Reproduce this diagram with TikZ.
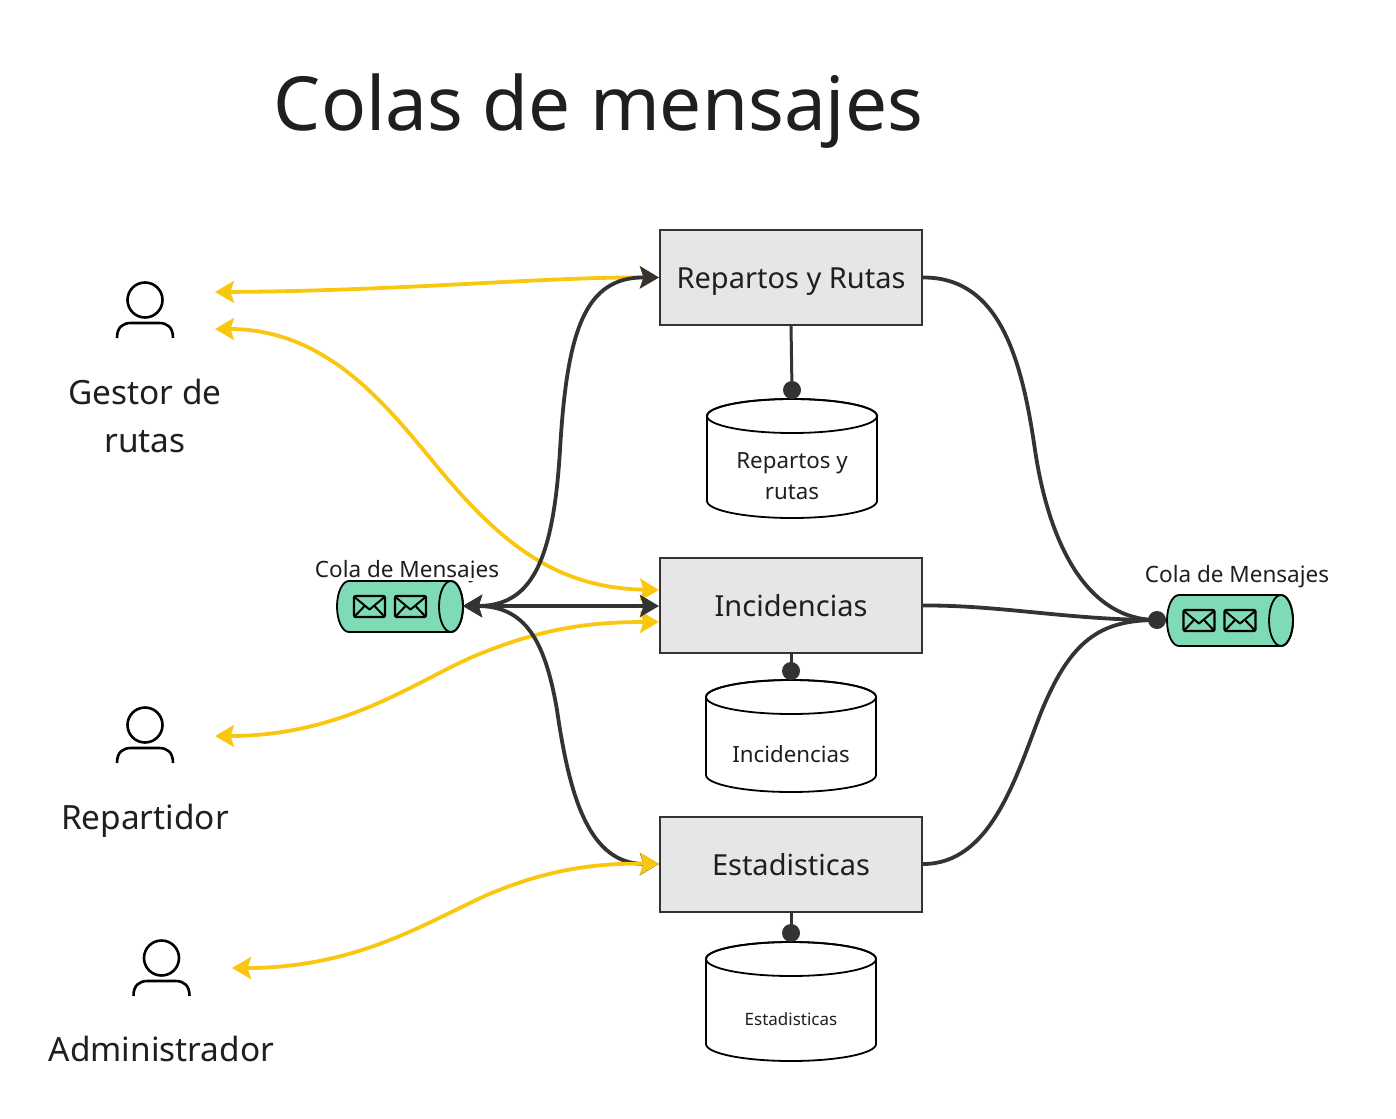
\documentclass[tikz,border=0pt]{standalone}
\usepackage{fontspec}
\setmainfont{Noto Sans}
\usetikzlibrary{arrows.meta,positioning,calc}
\definecolor{linedark}{HTML}{333333}
\definecolor{lineyellow}{HTML}{FAC710}
\definecolor{boxgray}{HTML}{E6E6E6}
\definecolor{queuegreen}{HTML}{7FDBB6}
\definecolor{textdark}{HTML}{1F1F1F}
\tikzset{
    service/.style={draw=linedark, line width=2pt, fill=boxgray, minimum width=262pt, minimum height=95pt, inner sep=0pt, text=textdark, text height=22pt, text depth=0pt, font=\fontsize{29}{35}\selectfont},
    dbtext/.style={align=center, text=textdark, font=\fontsize{22.3}{31}\selectfont},
    queuetext/.style={text=textdark, font=\fontsize{22.5}{28}\selectfont},
    actortext/.style={align=center, text=textdark, font=\fontsize{33.4}{48}\selectfont},
    darkline/.style={draw=linedark, line width=3.8pt},
    yellowline/.style={draw=lineyellow, line width=3.8pt},
    tiparrow/.tip={Stealth[length=19pt,width=22pt,inset=3.5pt]},
    pics/database/.style={code={
        \draw[line width=1.8pt, fill=white] (-85,17) -- (-85,#1-17) arc[start angle=180, end angle=360, x radius=85pt, y radius=17pt] -- (85,17) arc[start angle=0, end angle=180, x radius=85pt, y radius=17pt] -- cycle;
        \draw[line width=1.8pt] (0,17) ellipse[x radius=85pt, y radius=17pt];
    }},
    pics/queue/.style={code={
        \draw[line width=1.8pt, fill=queuegreen] (-51,-25.5) -- (51,-25.5) arc[start angle=90, end angle=-90, x radius=12pt, y radius=25.5pt] -- (-51,25.5) arc[start angle=270, end angle=90, x radius=12pt, y radius=25.5pt] -- cycle;
        \draw[line width=1.8pt] (51,0) ellipse[x radius=12pt, y radius=25.5pt];
    }},
    pics/envelope/.style={code={
        \draw[line width=2.4pt, rounded corners=2pt] (-15.5,-10.5) rectangle (15.5,10.5);
        \draw[line width=2pt, line join=round] (-14.5,-9) -- (0,3) -- (14.5,-9);
        \draw[line width=2pt] (-14.5,9.5) -- (-4.5,-1) (14.5,9.5) -- (4.5,-1);
    }},
    pics/person/.style={code={
        \draw[line width=2.6pt] (0,0) circle (17.5);
        \draw[line width=2.6pt] (-28,38) .. controls (-28,27) and (-22,23) .. (-14,23) -- (14,23) .. controls (22,23) and (28,27) .. (28,38);
    }}
}
\begin{document}
\begin{tikzpicture}[x=1pt, y=-1pt]
    \useasboundingbox (0,0) rectangle (1396,1118);
    \node[text=textdark, font=\fontsize{74.7}{90}\selectfont] (title) at (598.5,111) {Colas de mensajes};

    % actors
    \pic at (145,300) {person};
    \pic at (145,725) {person};
    \pic at (161.5,958) {person};
    \node[actortext] (gestor) at (145,416) {Gestor de\\rutas};
    \node[actortext] (repartidor) at (145,821) {Repartidor};
    \node[actortext] (admin) at (161.5,1049) {Administrador};
    \coordinate (gestorA) at (215,292);
    \coordinate (gestorB) at (215,329);
    \coordinate (repartidorA) at (215,736);
    \coordinate (adminA) at (232,968);

    % services
    \node[service] (repartos) at (791,277.5) {Repartos y Rutas};
    \node[service] (incidencias) at (791,605.5) {Incidencias};
    \node[service] (estadisticas) at (791,864) {Estadisticas};

    % databases
    \pic at (792,399) {database=119};
    \pic at (791,680) {database=112};
    \pic at (791,942) {database=119};
    \node[dbtext] (textrepartos) at (792,476) {Repartos y\\rutas};
    \node[dbtext] (textincidencias) at (791,754) {Incidencias};
    \node[dbtext, font=\fontsize{17}{22}\selectfont] (textestadisticas) at (791,1019) {Estadisticas};
    \coordinate (dotrepartos) at (792,390);
    \coordinate (dotincidencias) at (791,671);
    \coordinate (dotestadisticas) at (791,933);

    % queues
    \node[queuetext] (labelleft) at (407,572) {Cola de Mensajes};
    \fill[white] (300,578) rectangle (520,581);
    \pic at (400,606.5) {queue};
    \pic at (1230,620.5) {queue};
    \node[queuetext] (labelright) at (1237,577) {Cola de Mensajes};
    \foreach \x in {369.5,410.5} \pic at (\x,606.5) {envelope};
    \foreach \x in {1199,1240} \pic at (\x,620.5) {envelope};
    \coordinate (queueleft) at (463,606);
    \coordinate (dotright) at (1157,620);

    % yellow links
    \draw[yellowline, {tiparrow}-{tiparrow}] (gestorA) .. controls (400,291) and (540,277) .. (repartos.west);
    \draw[yellowline, {tiparrow}-{tiparrow}] (gestorB) .. controls (330,329) and (390,410) .. (440,470) .. controls (505,548) and (560,588) .. (incidencias.west |- 0,590);
    \draw[yellowline, {tiparrow}-{tiparrow}] (repartidorA) .. controls (340,736) and (410,685) .. (470,658) .. controls (540,628) and (590,622) .. (incidencias.west |- 0,622);

    % dark links
    \draw[darkline, {tiparrow}-{tiparrow}] (queueleft) -- (queueleft -| incidencias.west);
    \draw[darkline, {tiparrow}-{tiparrow}] (queueleft) .. controls (530,606) and (553,565) .. (560,450) .. controls (567,330) and (585,277) .. (repartos.west);
    \draw[darkline, {tiparrow}-{tiparrow}] (queueleft) .. controls (525,606) and (545,640) .. (557,710) .. controls (570,800) and (590,864) .. (estadisticas.west);
    \draw[darkline] (repartos.east) .. controls (1000,277) and (1022,360) .. (1035,450) .. controls (1050,550) and (1090,620) .. (dotright);
    \draw[darkline] (incidencias.east) .. controls (1000,605) and (1070,620) .. (dotright);
    \draw[darkline] (estadisticas.east) .. controls (990,864) and (1015,780) .. (1040,715) .. controls (1070,640) and (1100,620) .. (dotright);
    \fill[linedark] (dotright) circle (9);
    \draw[yellowline, {tiparrow}-{tiparrow}] (adminA) .. controls (357,968) and (427,922) .. (487,895) .. controls (550,868) and (600,863) .. (estadisticas.west);

    % database links
    \draw[darkline, line width=3pt] (repartos.south) -- (dotrepartos);
    \draw[darkline, line width=3pt] (incidencias.south) -- (dotincidencias);
    \draw[darkline, line width=3pt] (estadisticas.south) -- (dotestadisticas);
    \foreach \d in {dotrepartos,dotincidencias,dotestadisticas} \fill[linedark] (\d) circle (9);
\end{tikzpicture}
\end{document}
